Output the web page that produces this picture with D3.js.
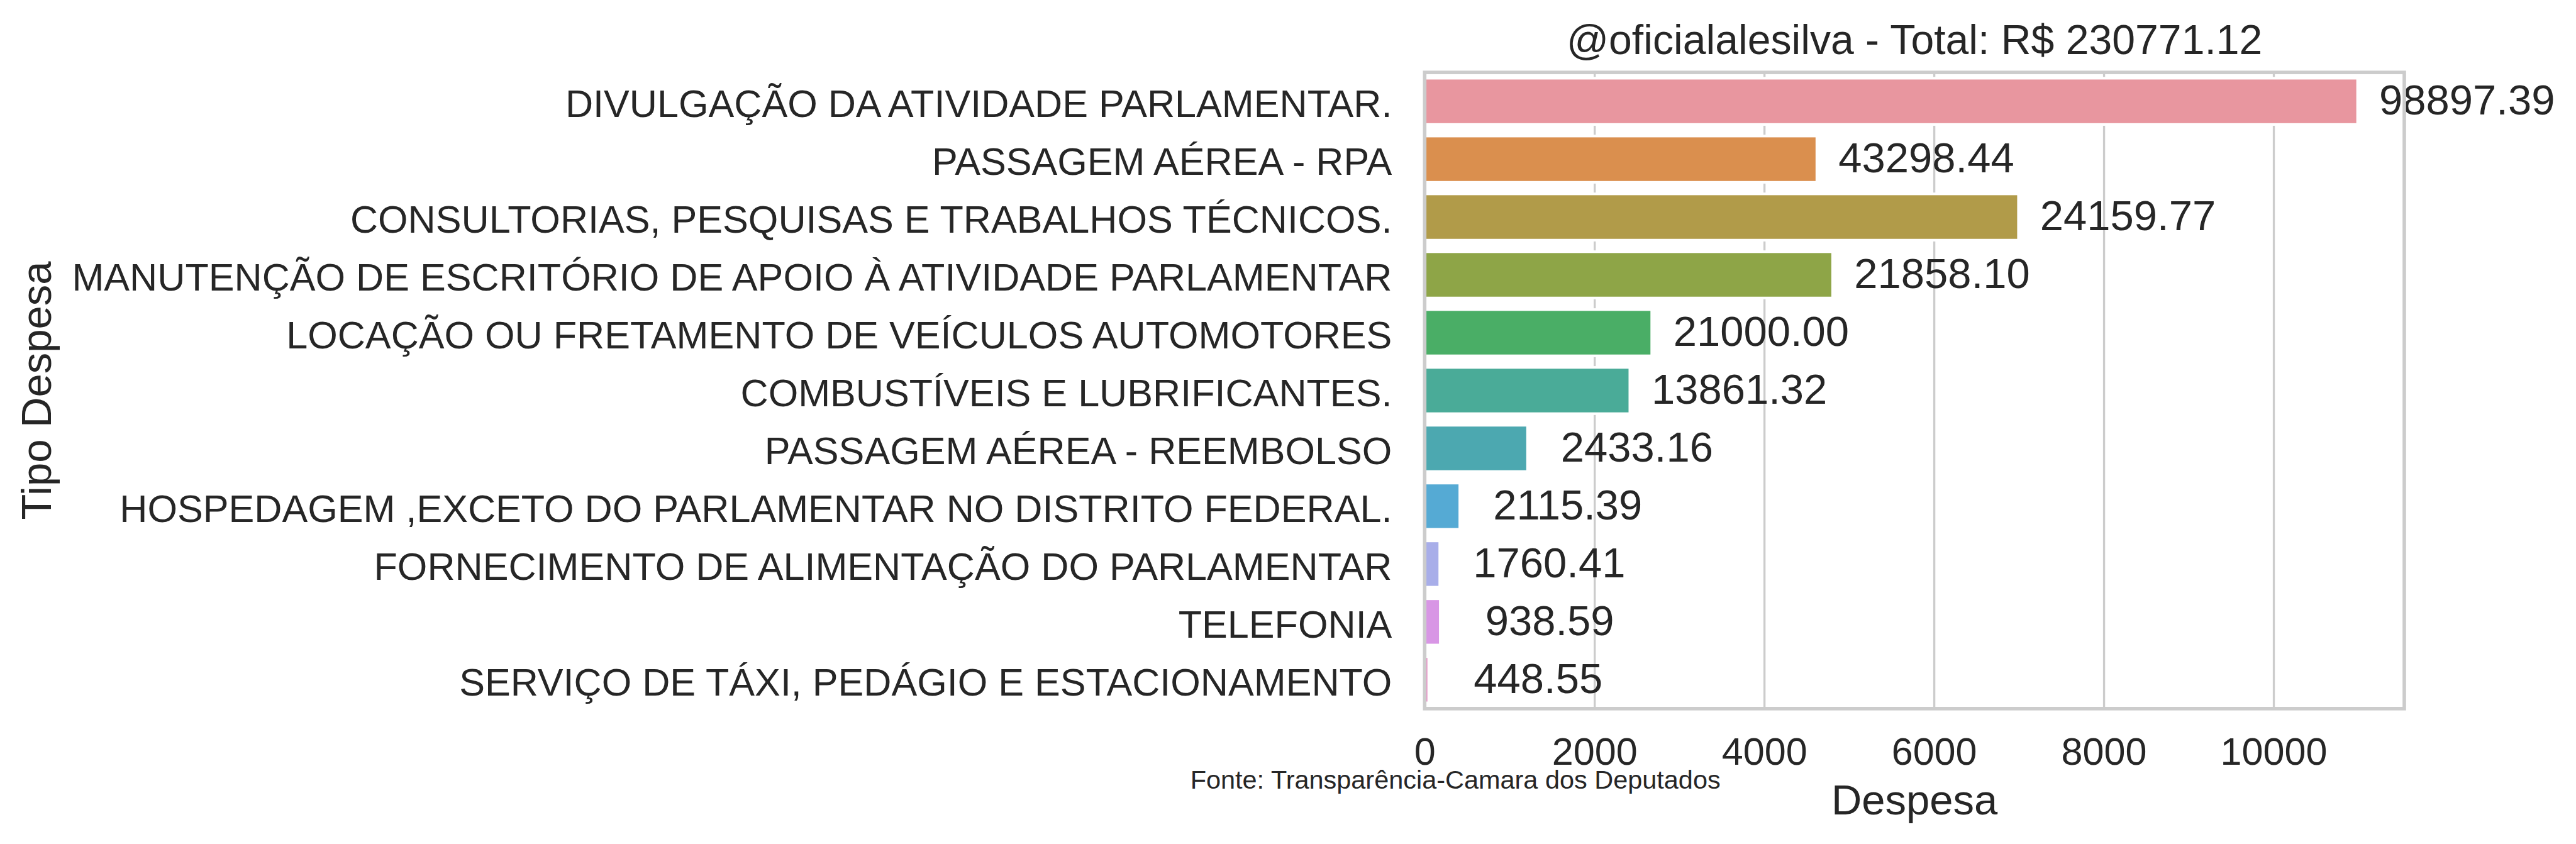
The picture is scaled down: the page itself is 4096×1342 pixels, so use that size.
<!DOCTYPE html>
<html>
<head>
<meta charset="utf-8">
<script src="https://cdn.jsdelivr.net/npm/d3@7"></script>
<style>
  html, body { margin: 0; padding: 0; background: #ffffff; }
  svg { display: block; }
  text { font-family: "Liberation Sans", Arial, sans-serif; fill: #262626; }
</style>
</head>
<body>
<script>
// ---- data ----
const categories = [
  "DIVULGAÇÃO DA ATIVIDADE PARLAMENTAR.",
  "PASSAGEM AÉREA - RPA",
  "CONSULTORIAS, PESQUISAS E TRABALHOS TÉCNICOS.",
  "MANUTENÇÃO DE ESCRITÓRIO DE APOIO À ATIVIDADE PARLAMENTAR",
  "LOCAÇÃO OU FRETAMENTO DE VEÍCULOS AUTOMOTORES",
  "COMBUSTÍVEIS E LUBRIFICANTES.",
  "PASSAGEM AÉREA - REEMBOLSO",
  "HOSPEDAGEM ,EXCETO DO PARLAMENTAR NO DISTRITO FEDERAL.",
  "FORNECIMENTO DE ALIMENTAÇÃO DO PARLAMENTAR",
  "TELEFONIA",
  "SERVIÇO DE TÁXI, PEDÁGIO E ESTACIONAMENTO"
];
// bar lengths (as drawn)
const barValues = [10990, 4620, 6995, 4806, 2675, 2417, 1212, 414, 178, 184, 48];
// annotated totals
const totals = [98897.39, 43298.44, 24159.77, 21858.10, 21000.00, 13861.32, 2433.16, 2115.39, 1760.41, 938.59, 448.55];
const colors = ["#e8969f", "#da8f4e", "#b19b49", "#8ea547", "#4aae66", "#4aab98",
                "#4ca8b0", "#55aad4", "#a8aee9", "#d896e5", "#e896c8"];
const xTicks = [0, 2000, 4000, 6000, 8000, 10000];
const titleText = "@oficialalesilva - Total: R$ 230771.12";
const xLabel = "Despesa";
const yLabel = "Tipo Despesa";
const sourceText = "Fonte: Transparência-Camara dos Deputados";

// ---- layout (reference pixel space, scaled to window) ----
const REF_W = 4891, REF_H = 1602;
const WIN_W = 4096, WIN_H = 1342;
const k = WIN_W / REF_W;
const axL = 2705, axR = 4565, axT = 137.5, axB = 1345.5;
const xMax = 11540;

const svg = d3.select("body").append("svg")
  .attr("width", WIN_W).attr("height", WIN_H);
svg.append("rect").attr("width", WIN_W).attr("height", WIN_H).attr("fill", "#ffffff");
const g = svg.append("g").attr("transform", `scale(${k})`);

const x = d3.scaleLinear().domain([0, xMax]).range([axL, axR]);
const y = d3.scaleBand().domain(categories).range([axT, axB])
  .paddingInner(0.2).paddingOuter(0.1);

// grid + x tick labels
const xAxis = g.append("g")
  .attr("transform", `translate(0,${axB})`)
  .call(d3.axisBottom(x).tickValues(xTicks).tickFormat(d3.format("d"))
    .tickSize(-(axB - axT)).tickPadding(0));
xAxis.select(".domain").remove();
xAxis.selectAll(".tick line").attr("stroke", "#cccccc").attr("stroke-width", 4);
xAxis.selectAll(".tick text")
  .attr("y", 1452 - axB).attr("dy", 0)
  .attr("font-size", 73).attr("fill", "#262626");

// y tick labels
const yAxis = g.append("g")
  .attr("transform", `translate(${axL},0)`)
  .call(d3.axisLeft(y).tickSize(0).tickPadding(0));
yAxis.select(".domain").remove();
yAxis.selectAll(".tick text")
  .attr("x", 2643 - axL).attr("dy", 0).attr("y", 30)
  .attr("font-size", 73).attr("fill", "#262626");

// bars
g.append("g").selectAll("rect")
  .data(categories)
  .join("rect")
  .attr("x", x(0))
  .attr("y", d => y(d))
  .attr("width", (d, i) => x(barValues[i]) - x(0))
  .attr("height", y.bandwidth())
  .attr("fill", (d, i) => colors[i])
  .attr("stroke", "#ffffff")
  .attr("stroke-width", 5);

// value labels
g.append("g").selectAll("text")
  .data(categories)
  .join("text")
  .attr("x", (d, i) => x(barValues[i]) + 41)
  .attr("y", d => y(d) + y.bandwidth() / 2 + 25)
  .attr("font-size", 80)
  .attr("xml:space", "preserve")
  .style("white-space", "pre")
  .text((d, i) => totals[i].toFixed(2).padStart(8, " "));

// spines
g.append("rect")
  .attr("x", axL).attr("y", axT)
  .attr("width", axR - axL).attr("height", axB - axT)
  .attr("fill", "none").attr("stroke", "#cccccc").attr("stroke-width", 6.7);

// title
g.append("text")
  .attr("x", (axL + axR) / 2).attr("y", 103)
  .attr("text-anchor", "middle").attr("font-size", 79)
  .text(titleText);

// x label
g.append("text")
  .attr("x", (axL + axR) / 2).attr("y", 1546)
  .attr("text-anchor", "middle").attr("font-size", 80)
  .text(xLabel);

// y label
g.append("text")
  .attr("transform", `translate(97,${(axT + axB) / 2}) rotate(-90)`)
  .attr("text-anchor", "middle").attr("font-size", 80)
  .text(yLabel);

// source
g.append("text")
  .attr("x", 2260).attr("y", 1497)
  .attr("font-size", 49.5)
  .text(sourceText);
</script>
</body>
</html>
